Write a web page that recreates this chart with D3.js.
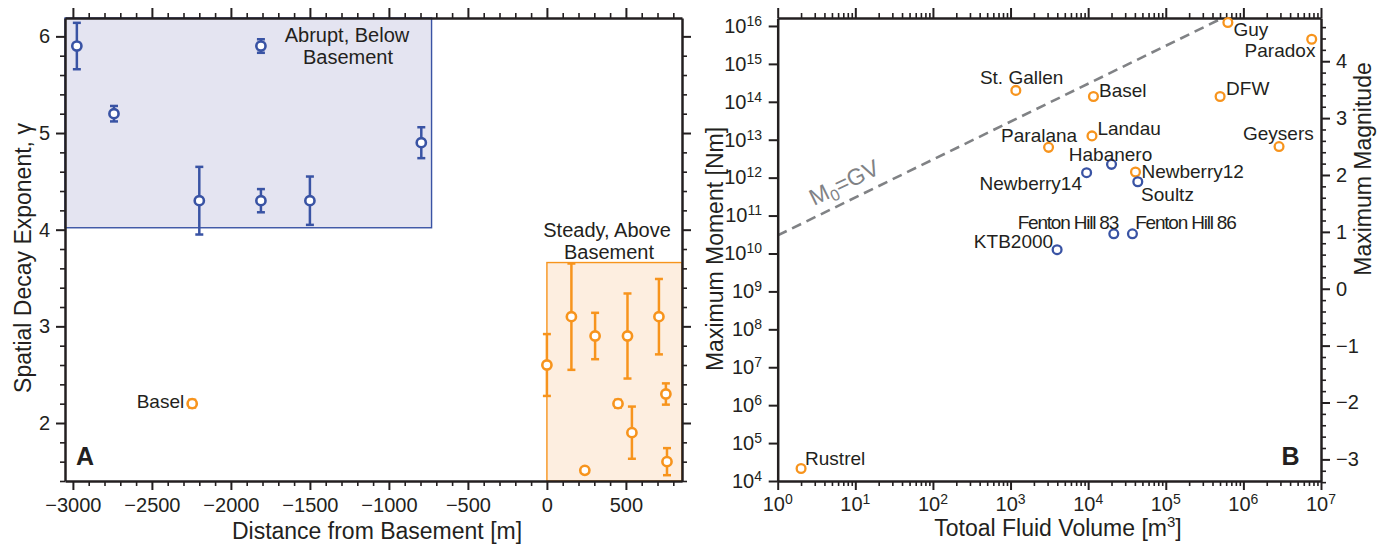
<!DOCTYPE html>
<html>
<head>
<meta charset="utf-8">
<script src="https://cdn.jsdelivr.net/npm/d3@7"></script>
<style>
  html, body { margin: 0; padding: 0; background: #fff; }
  svg { display: block; font-family: "Liberation Sans", Arial, Helvetica, sans-serif; }
</style>
</head>
<body>
<svg id="chart" width="1385" height="546"></svg>
<script>
// ---------------- DATA ----------------
// Panel A: abrupt (below basement) group
const blueDist  = [-2975, -2740, -2200, -1810, -1500, -1810, -795];
const blueGamma = [5.90, 5.20, 4.30, 4.30, 4.30, 5.90, 4.90];
const blueErr   = [0.24, 0.08, 0.35, 0.12, 0.25, 0.07, 0.16];
// Panel A: steady (above basement) group, last one is Basel
const orangeDist  = [0, 155, 305, 240, 450, 510, 538, 709, 753, 760, -2245];
const orangeGamma = [2.60, 3.10, 2.90, 1.51, 2.20, 2.90, 1.90, 3.10, 2.30, 1.60, 2.20];
const orangeErr   = [0.32, 0.55, 0.24, 0.0, 0.04, 0.44, 0.27, 0.39, 0.11, 0.14, 0.04];
const orangeNames = ["", "", "", "", "", "", "", "", "", "", "Basel"];
// shaded regions [x0, x1, y0, y1]
const abruptBox = [-3050, -730, 4.02, 6.19];
const steadyBox = [0, 855, 1.40, 3.66];
const xTicksA = [-3000, -2500, -2000, -1500, -1000, -500, 0, 500];
const yTicksA = [2, 3, 4, 5, 6];

// Panel B
const sites  = ["St. Gallen", "Paralana", "Basel", "Landau", "Newberry14", "Habanero", "Newberry12", "Soultz",
                "Fenton Hill 83", "Fenton Hill 86", "KTB2000", "Guy", "Paradox", "DFW", "Geysers", "Rustrel"];
const volume = [1170, 3090, 11700, 11200, 9550, 20000, 40700, 43600, 21400, 37200, 3980, 631000, 7590000, 501000, 2880000, 2];
const moment = [2.0e14, 6.3e12, 1.38e14, 1.26e13, 1.35e12, 2.24e12, 1.41e12, 7.8e11, 3.3e10, 3.3e10, 1.26e10, 1.23e16, 4.47e15, 1.38e14, 6.6e12, 2.14e4];
const group  = ["o", "o", "o", "o", "b", "b", "o", "b", "b", "b", "b", "o", "o", "o", "o", "o"];
const shearModulus = 3e10; // M0 = G V
const xExpB = [0, 1, 2, 3, 4, 5, 6, 7];
const yExpB = [4, 5, 6, 7, 8, 9, 10, 11, 12, 13, 14, 15, 16];
const magTicks = [-3, -2, -1, 0, 1, 2, 3, 4];

// ---------------- STYLE ----------------
const BLUE = "#3953a4", ORANGE = "#f7941d", INK = "#231f20", GRAY = "#808285";
const TICK_FS = 20;
// label placement (pixel offsets from the point, anchor)
const labelStyle = {
  "St. Gallen": [5.8, -6.4, "middle"], "Paralana": [28.6, -5.5, "end"], "Basel": [5.6, 0.3, "start"],
  "Landau": [5.4, -1, "start"], "Newberry14": [-4.6, 17.3, "end"], "Habanero": [-1, -3.4, "middle"],
  "Newberry12": [6, 5.8, "start"], "Soultz": [3.3, 18.8, "start"], "Fenton Hill 83": [4.3, -4.4, "end"],
  "Fenton Hill 86": [2.7, -4.4, "start"], "KTB2000": [-4, -1.4, "end"], "Guy": [5.6, 13.9, "start"],
  "Paradox": [3.7, 17.3, "end"], "DFW": [6, -1.4, "start"], "Geysers": [34.7, -6.4, "end"], "Rustrel": [4, -3, "start"]
};

const svg = d3.select("#chart");

// ======================= PANEL A =======================
const A = { left: 65, right: 682, top: 18, bottom: 481 };
const xA = d3.scaleLinear().domain([-3050, 855]).range([A.left, A.right]);
const yA = d3.scaleLinear().domain([1.40, 6.19]).range([A.bottom, A.top]);
const gA = svg.append("g");

// boxes
gA.append("rect")
  .attr("x", xA(abruptBox[0])).attr("y", yA(abruptBox[3]))
  .attr("width", xA(abruptBox[1]) - xA(abruptBox[0])).attr("height", yA(abruptBox[2]) - yA(abruptBox[3]))
  .attr("fill", "#e4e4f1").attr("stroke", BLUE).attr("stroke-width", 1.4);
gA.append("rect")
  .attr("x", xA(steadyBox[0])).attr("y", yA(steadyBox[3]))
  .attr("width", xA(steadyBox[1]) - xA(steadyBox[0])).attr("height", yA(steadyBox[2]) - yA(steadyBox[3]))
  .attr("fill", "#fdeee0").attr("stroke", ORANGE).attr("stroke-width", 1.4);

// axes for panel A
function styleAxis(g) {
  g.select(".domain").attr("stroke", INK).attr("stroke-width", 2.5);
  g.selectAll(".tick line").attr("stroke", INK).attr("stroke-width", 2);
  g.selectAll(".tick text").attr("fill", INK).attr("font-size", TICK_FS)
    .attr("font-family", '"Liberation Sans", Arial, sans-serif');
}
const xMinorA = d3.range(-3000, 856, 100).filter(v => v % 500 !== 0);
const yMinorA = d3.range(1.4, 6.19, 0.2).map(v => +v.toFixed(1)).filter(v => Math.abs(v - Math.round(v)) > 1e-6);

function minorAxis(axisFn, scale, vals, size, tr) {
  const g = gA.append("g").attr("transform", tr)
    .call(axisFn(scale).tickValues(vals).tickSize(size).tickFormat("").tickSizeOuter(0));
  g.select(".domain").remove();
  g.selectAll(".tick line").attr("stroke", INK).attr("stroke-width", 1.6);
}
minorAxis(d3.axisBottom, xA, xMinorA, 5, `translate(0,${A.bottom})`);
minorAxis(d3.axisTop, xA, xMinorA, 5, `translate(0,${A.top})`);
minorAxis(d3.axisLeft, yA, yMinorA, 5, `translate(${A.left},0)`);
minorAxis(d3.axisRight, yA, yMinorA, 5, `translate(${A.right},0)`);

const fmtA = d3.format("d");
gA.append("g").attr("transform", `translate(0,${A.bottom})`)
  .call(d3.axisBottom(xA).tickValues(xTicksA).tickSize(9).tickSizeOuter(0).tickPadding(8)
        .tickFormat(d => d < 0 ? "\u2212" + Math.abs(d) : String(d)))
  .call(styleAxis);
gA.append("g").attr("transform", `translate(0,${A.top})`)
  .call(d3.axisTop(xA).tickValues(xTicksA).tickSize(10).tickSizeOuter(0).tickFormat(""))
  .call(styleAxis);
gA.append("g").attr("transform", `translate(${A.left},0)`)
  .call(d3.axisLeft(yA).tickValues(yTicksA).tickSize(9).tickSizeOuter(0).tickPadding(6).tickFormat(fmtA))
  .call(styleAxis);
gA.append("g").attr("transform", `translate(${A.right},0)`)
  .call(d3.axisRight(yA).tickValues(yTicksA).tickSize(9).tickSizeOuter(0).tickFormat(""))
  .call(styleAxis);

// error bars + points
function drawPoints(g, xs, ys, es, color) {
  const idx = d3.range(xs.length);
  const eb = g.append("g").attr("stroke", color).attr("stroke-width", 2.5).attr("fill", "none");
  idx.filter(i => es[i] > 0).forEach(i => {
    const cx = xA(xs[i]);
    eb.append("line").attr("x1", cx).attr("x2", cx).attr("y1", yA(ys[i] - es[i])).attr("y2", yA(ys[i] + es[i]));
    eb.append("line").attr("x1", cx - 4).attr("x2", cx + 4).attr("y1", yA(ys[i] - es[i])).attr("y2", yA(ys[i] - es[i]));
    eb.append("line").attr("x1", cx - 4).attr("x2", cx + 4).attr("y1", yA(ys[i] + es[i])).attr("y2", yA(ys[i] + es[i]));
  });
  g.append("g").selectAll("circle").data(idx).join("circle")
    .attr("cx", i => xA(xs[i])).attr("cy", i => yA(ys[i])).attr("r", 4.6)
    .attr("fill", "#fff").attr("stroke", color).attr("stroke-width", 2.6);
}
drawPoints(gA, blueDist, blueGamma, blueErr, BLUE);
drawPoints(gA, orangeDist, orangeGamma, orangeErr, ORANGE);

orangeNames.forEach((n, i) => {
  if (!n) return;
  gA.append("text").attr("x", xA(orangeDist[i]) - 8).attr("y", yA(orangeGamma[i]) + 4.6)
    .attr("text-anchor", "end").attr("font-size", 19).attr("fill", INK).text(n);
});

// annotations A
const annA = gA.append("g").attr("fill", INK).attr("font-size", 20).attr("text-anchor", "middle");
annA.append("text").attr("x", 347).attr("y", 42).text("Abrupt, Below");
annA.append("text").attr("x", 348).attr("y", 64).text("Basement");
annA.append("text").attr("x", 607).attr("y", 237).text("Steady, Above");
annA.append("text").attr("x", 609).attr("y", 259).text("Basement");
gA.append("text").attr("x", 76).attr("y", 465).attr("font-size", 25).attr("font-weight", "bold")
  .attr("font-family", '"Liberation Sans Narrow", "Arial Narrow", "Liberation Sans", sans-serif')
  .attr("fill", INK).text("A");

// axis titles A
gA.append("text").attr("x", 377).attr("y", 539).attr("text-anchor", "middle")
  .attr("font-size", 23).attr("fill", INK).text("Distance from Basement [m]");
gA.append("text").attr("transform", "translate(31,258) rotate(-90)").attr("text-anchor", "middle")
  .attr("font-size", 23).attr("fill", INK).text("Spatial Decay Exponent, \u03b3");

// ======================= PANEL B =======================
const B = { left: 777.7, right: 1321, top: 18, bottom: 481 };
const xB = d3.scaleLog().domain([1, 1e7]).range([B.left, B.right]);
const yTopLog = 16.21;
const yB = d3.scaleLog().domain([1e4, Math.pow(10, yTopLog)]).range([B.bottom, B.top]);
const magOf = m0 => (2 / 3) * (Math.log10(m0) - 9.07);
const yMag = d3.scaleLinear().domain([magOf(1e4), magOf(Math.pow(10, yTopLog))]).range([B.bottom, B.top]);
const gB = svg.append("g");

// dashed M0 = G V line, clipped at top of plot
const vEnd = Math.pow(10, yTopLog) / shearModulus;
gB.append("line")
  .attr("x1", xB(1)).attr("y1", yB(shearModulus * 1))
  .attr("x2", xB(vEnd)).attr("y2", yB(shearModulus * vEnd))
  .attr("stroke", GRAY).attr("stroke-width", 2.6).attr("stroke-dasharray", "10,6");
const ang = Math.atan2(yB(shearModulus) - yB(shearModulus * 10), xB(10) - xB(1)) * 180 / Math.PI;
const mgv = gB.append("text").attr("transform", `translate(814,206) rotate(${-ang})`)
  .attr("font-size", 23).attr("fill", GRAY);
mgv.append("tspan").text("M");
mgv.append("tspan").attr("font-size", 16).attr("dy", 5).text("0");
mgv.append("tspan").attr("dy", -5).text("=GV");

// minor ticks for log x
const xMinorB = [];
xExpB.slice(0, -1).forEach(e => { for (let k = 2; k <= 9; k++) xMinorB.push(k * Math.pow(10, e)); });
function minorAxisB(axisFn, scale, vals, size, tr) {
  const g = gB.append("g").attr("transform", tr)
    .call(axisFn(scale).tickValues(vals).tickSize(size).tickFormat("").tickSizeOuter(0));
  g.select(".domain").remove();
  g.selectAll(".tick line").attr("stroke", INK).attr("stroke-width", 1.6);
}
minorAxisB(d3.axisBottom, xB, xMinorB, 5, `translate(0,${B.bottom})`);
minorAxisB(d3.axisTop, xB, xMinorB, 5, `translate(0,${B.top})`);
const magMinor = d3.range(-3.4, 4.75, 0.2).map(v => +v.toFixed(1)).filter(v => Math.abs(v - Math.round(v)) > 1e-6);
minorAxisB(d3.axisRight, yMag, magMinor, 5, `translate(${B.right},0)`);

const xMajB = xExpB.map(e => Math.pow(10, e));
const yMajB = yExpB.map(e => Math.pow(10, e));
gB.append("g").attr("transform", `translate(0,${B.bottom})`)
  .call(d3.axisBottom(xB).tickValues(xMajB).tickSize(9).tickSizeOuter(0).tickFormat(""))
  .call(styleAxis);
gB.append("g").attr("transform", `translate(0,${B.top})`)
  .call(d3.axisTop(xB).tickValues(xMajB).tickSize(10).tickSizeOuter(0).tickFormat(""))
  .call(styleAxis);
gB.append("g").attr("transform", `translate(${B.left},0)`)
  .call(d3.axisLeft(yB).tickValues(yMajB).tickSize(9).tickSizeOuter(0).tickFormat(""))
  .call(styleAxis);
gB.append("g").attr("transform", `translate(${B.right},0)`)
  .call(d3.axisRight(yMag).tickValues(magTicks).tickSize(9).tickSizeOuter(0).tickPadding(6)
        .tickFormat(d => d < 0 ? "\u2212" + Math.abs(d) : String(d)))
  .call(styleAxis);

// power-of-ten labels
xExpB.forEach(e => {
  const t = gB.append("text").attr("x", xB(Math.pow(10, e))).attr("y", 511)
    .attr("text-anchor", "middle").attr("font-size", TICK_FS).attr("fill", INK);
  t.append("tspan").text("10");
  t.append("tspan").attr("font-size", 14).attr("dy", -7).text(e);
});
yExpB.forEach(e => {
  const t = gB.append("text").attr("x", 762).attr("y", yB(Math.pow(10, e)) + 6.8)
    .attr("text-anchor", "end").attr("font-size", TICK_FS).attr("fill", INK);
  t.append("tspan").text("10");
  t.append("tspan").attr("font-size", 14).attr("dy", -7).text(e);
});

// points
const idxB = d3.range(sites.length);
gB.append("g").selectAll("circle").data(idxB).join("circle")
  .attr("cx", i => xB(volume[i])).attr("cy", i => yB(moment[i])).attr("r", 4.4)
  .attr("fill", "#fff").attr("stroke", i => group[i] === "b" ? BLUE : ORANGE).attr("stroke-width", 2.3);

gB.append("g").selectAll("text").data(idxB).join("text")
  .attr("x", i => xB(volume[i]) + labelStyle[sites[i]][0])
  .attr("y", i => yB(moment[i]) + labelStyle[sites[i]][1])
  .attr("text-anchor", i => labelStyle[sites[i]][2])
  .attr("font-size", 19).attr("fill", INK)
  .attr("letter-spacing", i => sites[i].startsWith("Fenton") ? -1.2 : 0)
  .text(i => sites[i]);

gB.append("text").attr("x", 1281.5).attr("y", 465).attr("font-size", 25).attr("font-weight", "bold")
  .attr("font-family", '"Liberation Sans Narrow", "Arial Narrow", "Liberation Sans", sans-serif')
  .attr("fill", INK).text("B");

// axis titles B
const xt = gB.append("text").attr("x", 1058).attr("y", 536).attr("text-anchor", "middle")
  .attr("font-size", 23).attr("fill", INK);
xt.append("tspan").text("Totoal Fluid Volume [m");
xt.append("tspan").attr("font-size", 15).attr("dy", -9).text("3");
xt.append("tspan").attr("dy", 9).text("]");
gB.append("text").attr("transform", "translate(723,249) rotate(-90)").attr("text-anchor", "middle")
  .attr("font-size", 23).attr("fill", INK).text("Maximum Moment [Nm]");
gB.append("text").attr("transform", "translate(1371,169) rotate(-90)").attr("text-anchor", "middle")
  .attr("font-size", 23).attr("fill", INK).text("Maximum Magnitude");
</script>
</body>
</html>
